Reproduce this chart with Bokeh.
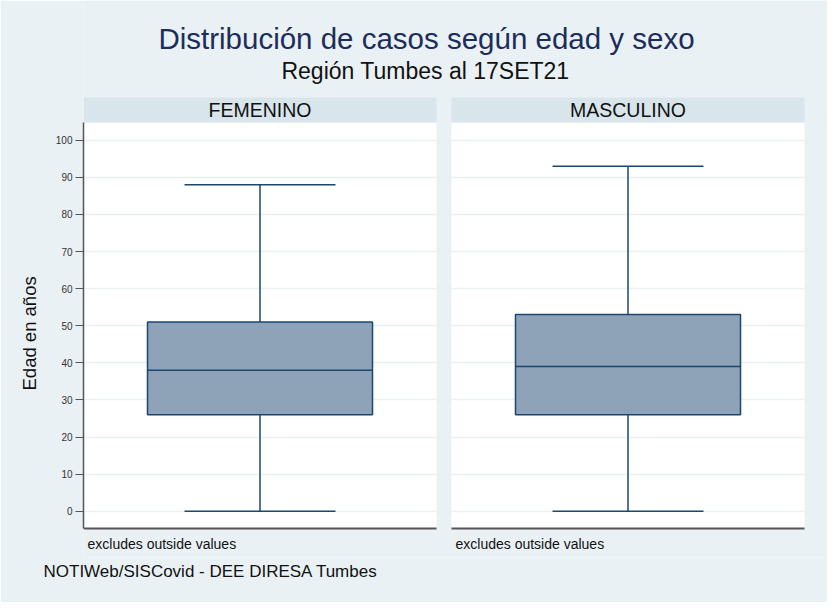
from bokeh.plotting import figure
from bokeh.models import Range1d, FixedTicker, Label, Title
from bokeh.embed import file_html
from bokeh.resources import INLINE

# ---- data ----
groups = ["FEMENINO", "MASCULINO"]
lower_whisker = [0, 0]
q1 = [26, 26]
median = [38, 39]
q3 = [51, 53]
upper_whisker = [88, 93]
y_ticks = [0, 10, 20, 30, 40, 50, 60, 70, 80, 90, 100]
title = "Distribución de casos según edad y sexo"
subtitle = "Región Tumbes al 17SET21"
y_label = "Edad en años"
note = "excludes outside values"
source_note = "NOTIWeb/SISCovid - DEE DIRESA Tumbes"

# ---- styling / geometry ----
BG = "#eaf1f4"
HEADER = "#d8e5eb"
BOX_FILL = "#8ea3b8"
NAVY = "#1a476f"
TITLE_C = "#1c2d5c"
FONT = "Liberation Sans"

W, H = 827, 602
ML, MB = 83, 45
PX_X = 368.0      # pixels per x unit (distance between panel centres)
PX_Y = 3.709      # pixels per year
X0_PIX = 267.5    # screen x of first panel centre
Y0_PIX = 518.7    # screen y of age 0

centers = [1 + i for i in range(len(groups))]
panel_half = 176.5 / PX_X
box_half = 112.5 / PX_X
cap_half = 75.5 / PX_X


def sx(X):  # screen x -> data x
    return centers[0] + (X - X0_PIX) / PX_X


def sy(Y):  # screen y -> data y
    return (Y0_PIX - Y) / PX_Y


x_start, x_end = sx(8 + ML), sx(8 + W)
y_start, y_end = sy(8 + H - MB), sy(8)
y_lo, y_plot_top, y_hdr_top = sy(536), sy(130), sy(105)

p = figure(width=W, height=H, x_range=Range1d(x_start, x_end),
           y_range=Range1d(y_start, y_end), output_backend="svg",
           toolbar_location=None, min_border_left=ML, min_border_right=0,
           min_border_top=0, min_border_bottom=MB)
p.background_fill_color = BG
p.border_fill_color = BG
p.outline_line_color = None

n = len(centers)
pl = [c - panel_half for c in centers]
pr = [c + panel_half for c in centers]
# white plot regions (below the grid)
p.quad(left=pl, right=pr, bottom=[y_lo] * n, top=[y_plot_top] * n,
       fill_color="white", line_color=None, level="image")
# header strips
p.quad(left=pl, right=pr, bottom=[y_plot_top] * n, top=[y_hdr_top] * n,
       fill_color=HEADER, line_color=None)

# grid
p.xgrid.visible = False
p.ygrid.ticker = FixedTicker(ticks=y_ticks)
p.ygrid.grid_line_color = "#e9f1f3"
p.ygrid.grid_line_width = 1.5

# axes
p.xaxis.visible = False
ya = p.yaxis[0]
ya.ticker = FixedTicker(ticks=y_ticks)
ya.bounds = (y_lo, y_plot_top)
ya.axis_line_color = "#555555"
ya.axis_line_width = 1.5
ya.major_tick_line_color = "#555555"
ya.major_tick_out = 8
ya.major_tick_in = 0
ya.minor_tick_line_color = None
ya.major_label_text_font = FONT
ya.major_label_text_font_size = "10px"
ya.major_label_text_color = "#333333"
ya.major_label_standoff = 3

# bottom axis lines per panel
p.segment(x0=pl, x1=pr, y0=[y_lo] * n, y1=[y_lo] * n,
          line_color="#555555", line_width=2)

# whiskers
p.segment(x0=centers, x1=centers, y0=q3, y1=upper_whisker, line_color=NAVY, line_width=1.5)
p.segment(x0=centers, x1=centers, y0=lower_whisker, y1=q1, line_color=NAVY, line_width=1.5)
cl = [c - cap_half for c in centers]
cr = [c + cap_half for c in centers]
p.segment(x0=cl, x1=cr, y0=upper_whisker, y1=upper_whisker, line_color=NAVY, line_width=1.5)
p.segment(x0=cl, x1=cr, y0=lower_whisker, y1=lower_whisker, line_color=NAVY, line_width=1.5)

# boxes
bl = [c - box_half for c in centers]
br = [c + box_half for c in centers]
p.quad(left=bl, right=br, bottom=q1, top=q3, fill_color=BOX_FILL,
       line_color=NAVY, line_width=1.5)
p.segment(x0=bl, x1=br, y0=median, y1=median, line_color=NAVY, line_width=1.5)

# panel headers and notes
for c, g in zip(centers, groups):
    p.add_layout(Label(x=c, y=(y_plot_top + y_hdr_top) / 2, text=g, text_align="center",
                       text_baseline="middle", text_font=FONT, text_font_size="19.5px",
                       text_color="#111111"))
    p.add_layout(Label(x=c - panel_half + 4 / PX_X, y=sy(551), text=note,
                       text_align="left", text_baseline="middle", text_font=FONT,
                       text_font_size="14px", text_color="#111111"))

# titles (inside frame)
p.add_layout(Label(x=sx(434), y=sy(46), text=title, text_align="center",
                   text_baseline="middle", text_font=FONT, text_font_size="29.5px",
                   text_color=TITLE_C))
p.add_layout(Label(x=sx(433), y=sy(78), text=subtitle, text_align="center",
                   text_baseline="middle", text_font=FONT, text_font_size="23px",
                   text_color="#111111"))

# y label (left of the axis) and footer (below)
p.add_layout(Title(text=y_label, align="left", offset=565 - 398, text_font=FONT,
                   text_font_size="18.5px", text_font_style="normal",
                   text_color="#111111", standoff=26), "left")
p.add_layout(Title(text=source_note, align="left", offset=51 - 91, text_font=FONT,
                   text_font_size="17px", text_font_style="normal",
                   text_color="#111111", standoff=4), "below")

open("out.html", "w").write(file_html(p, INLINE))
